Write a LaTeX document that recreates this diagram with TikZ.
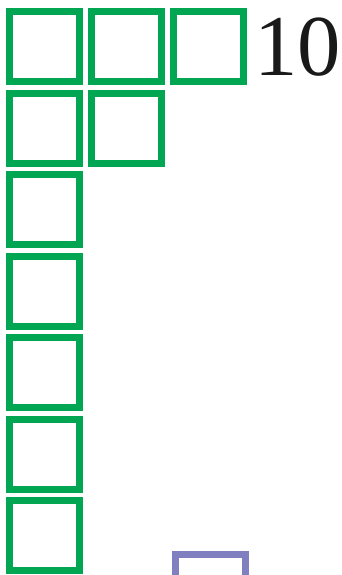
\documentclass[tikz,border=0pt]{standalone}
\usepackage{fontspec}
\setmainfont{Liberation Serif}
\usepackage{xcolor}
\usepackage{tikz}
\usetikzlibrary{positioning}
\definecolor{cellgreen}{HTML}{00A651}
\definecolor{cellblue}{HTML}{8080C0}
\tikzset{
  cell/.style={draw=cellgreen, line width=0.21cm, fill=white, minimum size=2.1cm, inner sep=0pt},
  bluecell/.style={draw=cellblue, line width=0.21cm, fill=white, minimum size=2.1cm, inner sep=0pt},
  count/.style={font=\fontsize{74}{78}\selectfont, text=black!90, inner sep=0pt, anchor=base west},
}
\begin{document}
\begin{tikzpicture}
  \useasboundingbox (0,0) rectangle (10.26,-17.25);

  % Top row of three cells
  \node[cell] (c11) at (1.32,-1.395) {};
  \node[cell] (c12) at (3.78,-1.395) {};
  \node[cell] (c13) at (6.24,-1.395) {};

  % Second row of two cells
  \node[cell] (c21) at (1.32,-3.84) {};
  \node[cell] (c22) at (3.78,-3.84) {};

  % Single column below
  \foreach \r in {3,...,7} {
    \node[cell] (c\r1) at (1.32,{-1.395-2.445*(\r-1)}) {};
  }

  % Count beside the top row
  \node[count] (total) at (7.62,-2.25) {10};

  % Blue cell, cut off at the bottom
  \node[bluecell] (b1) at (6.3,-17.67) {};
\end{tikzpicture}
\end{document}
